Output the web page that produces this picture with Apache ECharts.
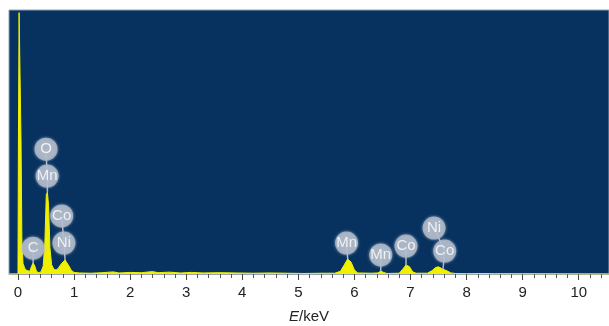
<!DOCTYPE html>
<html>
<head>
<meta charset="utf-8">
<script src="https://cdn.jsdelivr.net/npm/echarts@6/dist/echarts.min.js"></script>
<style>html,body{margin:0;padding:0;background:#fff;}#c{width:609px;height:326px;}</style>
</head>
<body>
<div id="c"></div>
<script>
// Spectrum (energy in keV, counts in arbitrary units)
var energy = [-0.16, 0.0, 0.008, 0.02, 0.04, 0.055, 0.07, 0.09, 0.12, 0.15, 0.18, 0.21, 0.24, 0.27, 0.30, 0.33, 0.37, 0.41, 0.45, 0.48, 0.505, 0.525, 0.545, 0.57, 0.60, 0.64, 0.68, 0.72, 0.76, 0.80, 0.84, 0.87, 0.91, 0.95, 1.0, 1.1, 1.3, 1.5, 1.7, 1.8, 2.0, 2.2, 2.4, 2.5, 2.7, 2.9, 3.1, 3.3, 3.6, 3.9, 4.2, 4.5, 4.8, 5.1, 5.4, 5.65, 5.75, 5.82, 5.88, 5.94, 6.0, 6.06, 6.3, 6.42, 6.47, 6.52, 6.58, 6.8, 6.86, 6.92, 6.98, 7.04, 7.1, 7.3, 7.38, 7.45, 7.5, 7.58, 7.65, 7.72, 7.8, 8.0, 8.26, 8.5, 9.0, 10.54];
var counts = [0, 0, 500, 990, 990, 500, 120, 40, 22, 14, 8, 10, 28, 42, 30, 10, 5, 8, 30, 120, 300, 310, 260, 100, 35, 18, 15, 22, 35, 45, 53, 48, 30, 14, 6, 4, 3, 5, 8, 4, 6, 5, 9, 5, 7, 4, 6, 4, 5, 4, 3, 4, 3, 2, 3, 3, 10, 35, 57, 45, 15, 4, 3, 4, 11, 6, 2, 3, 18, 34, 28, 8, 3, 3, 12, 25, 27, 18, 12, 4, 2, 1, 2, 1, 1, 0];

// Element labels: name, energy of badge, count level of badge
var badgeNames  = ['O', 'Mn', 'C', 'Co', 'Ni', 'Mn', 'Mn', 'Co', 'Ni', 'Co'];
var badgeEnergy = [0.50, 0.52, 0.27, 0.78, 0.82, 5.86, 6.47, 6.92, 7.42, 7.61];
var badgeLevel  = [473, 371, 98, 220, 117, 117, 72, 106, 174, 87];

// Leader lines: groups of [energy, level] points (badge stack down to peak top)
var leaders = [
  [[0.50, 473], [0.52, 371], [0.525, 310]],
  [[0.27, 98], [0.27, 42]],
  [[0.78, 220], [0.82, 117], [0.84, 53]],
  [[5.86, 117], [5.88, 57]],
  [[6.47, 72], [6.47, 11]],
  [[6.92, 106], [6.92, 34]],
  [[7.42, 174], [7.61, 87], [7.58, 18]]
];

// Axis ticks
var majorTicks = [0, 1, 2, 3, 4, 5, 6, 7, 8, 9, 10];
var minorTicks = [0.2, 0.4, 0.6, 0.8, 1.2, 1.4, 1.6, 1.8, 2.2, 2.4, 2.6, 2.8, 3.2, 3.4, 3.6, 3.8, 4.2, 4.4, 4.6, 4.8, 5.2, 5.4, 5.6, 5.8, 6.2, 6.4, 6.6, 6.8, 7.2, 7.4, 7.6, 7.8, 8.2, 8.4, 8.6, 8.8, 9.2, 9.4, 9.6, 9.8, 10.2, 10.4];

var spectrum = energy.map(function (e, i) { return [e, counts[i]]; });
var badges = badgeNames.map(function (n, i) { return { value: [badgeEnergy[i], badgeLevel[i]], label: { formatter: n } }; });

var series = [{
  type: 'line',
  data: spectrum,
  showSymbol: false,
  symbol: 'none',
  lineStyle: { color: '#f0f000', width: 1 },
  areaStyle: { color: '#f0f000', opacity: 1 },
  silent: true,
  z: 2
}];
leaders.forEach(function (seg) {
  series.push({
    type: 'line', data: seg, symbol: 'none', silent: true,
    lineStyle: { color: '#aeb8c8', width: 1.5 }, z: 3
  });
});
series.push({
  type: 'scatter',
  data: badges,
  symbol: 'circle',
  symbolSize: 23,
  itemStyle: { color: '#b1bbcb', shadowColor: 'rgba(190,200,215,0.9)', shadowBlur: 3 },
  label: { show: true, position: 'inside', color: '#ffffff', fontSize: 15, fontFamily: 'Liberation Sans, Arial, sans-serif' },
  silent: true,
  z: 4
});

var chart = echarts.init(document.getElementById('c'), null, { renderer: 'canvas' });
chart.setOption({
  animation: false,
  backgroundColor: '#ffffff',
  grid: {
    left: 9, right: 0, top: 10, bottom: 52,
    show: true, backgroundColor: '#07325f', borderColor: '#8fa0b6', borderWidth: 1,
    containLabel: false, outerBoundsMode: 'none'
  },
  xAxis: [{
    type: 'value', min: -0.16, max: 10.54,
    axisLine: { show: true, lineStyle: { color: '#9aa4b0', width: 1 } },
    axisTick: { show: true, customValues: majorTicks, length: 6, lineStyle: { color: '#444' } },
    axisLabel: { show: true, customValues: majorTicks, margin: 11, fontSize: 15, color: '#222', fontFamily: 'Liberation Sans, Arial, sans-serif' },
    splitLine: { show: false },
    name: '{i|E}/keV',
    nameLocation: 'middle',
    nameGap: 35,
    nameTextStyle: {
      fontSize: 15, color: '#222', fontFamily: 'Liberation Sans, Arial, sans-serif',
      rich: { i: { fontStyle: 'italic', fontSize: 15, color: '#222', fontFamily: 'Liberation Sans, Arial, sans-serif' } }
    }
  }, {
    type: 'value', min: -0.16, max: 10.54, position: 'bottom',
    axisLine: { show: false },
    axisTick: { show: true, customValues: minorTicks, length: 4, lineStyle: { color: '#555' } },
    axisLabel: { show: false },
    splitLine: { show: false }
  }],
  yAxis: {
    type: 'value', min: 0, max: 1000, show: false
  },
  series: series
});
</script>
</body>
</html>
